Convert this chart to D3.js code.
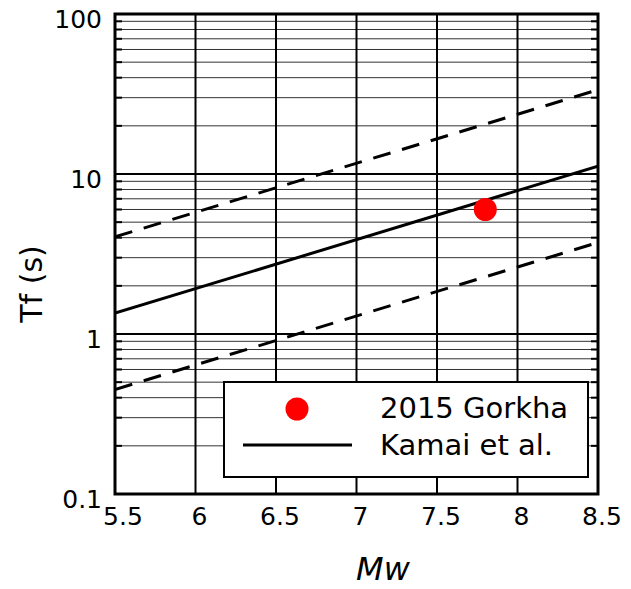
<!DOCTYPE html>
<html><head><meta charset="utf-8">
<script src="https://cdn.jsdelivr.net/npm/d3@7/dist/d3.min.js"></script>
<style>body{margin:0;background:#fff;}svg{display:block;font-family:"DejaVu Sans",Verdana,sans-serif;}</style>
</head><body>
<script>
// Data
const xTicks = [5.5, 6, 6.5, 7, 7.5, 8, 8.5];
const yTicks = [0.1, 1, 10, 100];
const yTickLabels = ["0.1", "1", "10", "100"];
const lineMw = [5.5, 8.5];
const kamaiTf = [1.35, 11.2];
const upperTf = [4.05, 33.6];
const lowerTf = [0.45, 3.73];
const eventMw = [7.8];
const eventTf = [6.0];
const legendLabels = ["2015 Gorkha", "Kamai et al."];

const W = 631, H = 589;
const m = {left: 115, right: 598, top: 14, bottom: 494};
const svg = d3.select("body").append("svg").attr("width", W).attr("height", H);
const x = d3.scaleLinear().domain([5.5, 8.5]).range([m.left, m.right]);
const y = d3.scaleLog().domain([0.1, 100]).range([m.bottom, m.top]);

// minor values
const minor = [];
[0.1, 1, 10].forEach(d => { for (let k = 2; k <= 9; k++) minor.push(d * k); });

const g = svg.append("g");
// minor horizontal grid
g.selectAll(".mg").data(minor).enter().append("line")
  .attr("x1", m.left).attr("x2", m.right)
  .attr("y1", d => y(d)).attr("y2", d => y(d))
  .attr("stroke", "#333").attr("stroke-width", 1);
// minor ticks (inward, both sides)
g.selectAll(".mtl").data(minor).enter().append("line")
  .attr("x1", m.left).attr("x2", m.left + 7)
  .attr("y1", d => y(d)).attr("y2", d => y(d))
  .attr("stroke", "#000").attr("stroke-width", 2);
g.selectAll(".mtr").data(minor).enter().append("line")
  .attr("x1", m.right - 7).attr("x2", m.right)
  .attr("y1", d => y(d)).attr("y2", d => y(d))
  .attr("stroke", "#000").attr("stroke-width", 2);
// major horizontal grid
g.selectAll(".Mg").data(yTicks).enter().append("line")
  .attr("x1", m.left).attr("x2", m.right)
  .attr("y1", d => y(d)).attr("y2", d => y(d))
  .attr("stroke", "#000").attr("stroke-width", 2);
// vertical grid
g.selectAll(".vg").data(xTicks).enter().append("line")
  .attr("x1", d => x(d)).attr("x2", d => x(d))
  .attr("y1", m.top).attr("y2", m.bottom)
  .attr("stroke", "#000").attr("stroke-width", 2);

// data lines
const lg = d3.line().x(d => x(d[0])).y(d => y(d[1]));
const mk = arr => lineMw.map((v, i) => [v, arr[i]]);
svg.append("clipPath").attr("id", "c").append("rect")
  .attr("x", m.left).attr("y", m.top).attr("width", m.right - m.left).attr("height", m.bottom - m.top);
const dl = svg.append("g").attr("clip-path", "url(#c)");
dl.append("path").attr("d", lg(mk(kamaiTf))).attr("fill", "none").attr("stroke", "#000").attr("stroke-width", 3);
[upperTf, lowerTf].forEach(a => {
  dl.append("path").attr("d", lg(mk(a))).attr("fill", "none").attr("stroke", "#000")
    .attr("stroke-width", 3).attr("stroke-dasharray", "18,12");
});
svg.selectAll(".pt").data(eventMw).enter().append("circle")
  .attr("cx", d => x(d)).attr("cy", (d, i) => y(eventTf[i])).attr("r", 11.5).attr("fill", "#ff0000");

// frame
svg.append("rect").attr("x", m.left).attr("y", m.top)
  .attr("width", m.right - m.left).attr("height", m.bottom - m.top)
  .attr("fill", "none").attr("stroke", "#000").attr("stroke-width", 3);

// tick labels
svg.selectAll(".yl").data(yTicks).enter().append("text")
  .attr("x", 102).attr("y", d => y(d) + 14)
  .attr("text-anchor", "end").attr("font-size", 25).text((d, i) => yTickLabels[i]);
svg.selectAll(".xl").data(xTicks).enter().append("text")
  .attr("x", (d, i) => x(d) + (i === 0 ? 8 : 4)).attr("y", 525)
  .attr("text-anchor", "middle").attr("font-size", 25).text(d => String(d));

// axis titles
svg.append("text").attr("transform", "translate(42,284) rotate(-90)")
  .attr("text-anchor", "middle").attr("font-size", 30).text("Tf (s)");
svg.append("text").attr("x", 383).attr("y", 580).attr("text-anchor", "middle")
  .attr("font-size", 32).attr("font-style", "italic").text("Mw");

// legend
const L = svg.append("g");
L.append("rect").attr("x", 224).attr("y", 382).attr("width", 364).attr("height", 95)
  .attr("fill", "#fff").attr("stroke", "#000").attr("stroke-width", 2);
L.append("circle").attr("cx", 297).attr("cy", 409).attr("r", 11.5).attr("fill", "#ff0000");
L.append("line").attr("x1", 243).attr("x2", 352).attr("y1", 445).attr("y2", 445)
  .attr("stroke", "#000").attr("stroke-width", 3);
L.selectAll(".lt").data(legendLabels).enter().append("text")
  .attr("x", 380).attr("y", (d, i) => 418 + i * 37).attr("font-size", 29).text(d => d);
</script>
</body></html>
